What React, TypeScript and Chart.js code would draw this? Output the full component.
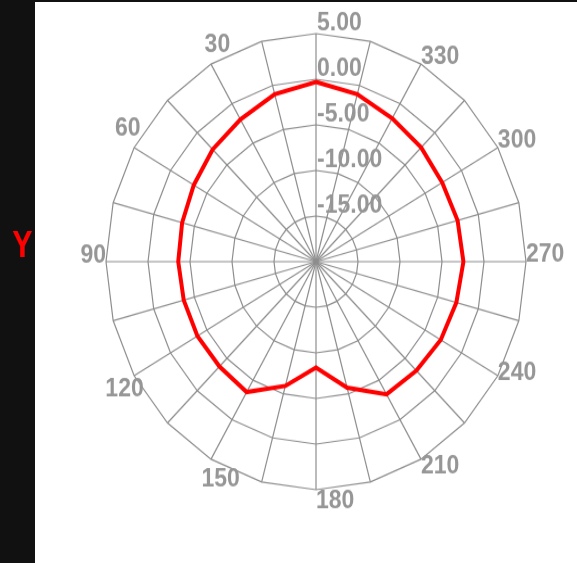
import React, { useEffect, useRef } from 'react';
import { Chart, registerables } from 'chart.js';

Chart.register(...registerables);

// Angles (degrees, counter-clockwise from top) and normalised gain (dB)
const angles = ['0', '15', '30', '45', '60', '75', '90', '105', '120', '135', '150', '165',
  '180', '195', '210', '225', '240', '255', '270', '285', '300', '315', '330', '345'];
const gainDb = [-0.3, -1.0, -2.0, -2.6, -3.2, -3.5, -3.6, -3.7, -3.7, -3.75, -3.5, -5.9,
  -8.4, -5.7, -3.2, -3.1, -2.85, -2.7, -2.45, -2.55, -2.65, -2.3, -1.85, -1.0];
const radialMin = -20;
const radialMax = 5;
const radialStep = 5;
const labelEvery = 30;

const GRID = '#8e8e8e';
const TEXT = '#969696';
const FONT = '"Liberation Sans", Arial, sans-serif';
const LABEL_FONT = `bold 23px ${FONT}`;

// Chart.js radar goes clockwise; reorder so angles increase counter-clockwise
const order = angles.map((_, i) => (angles.length - i) % angles.length);
const chartLabels = order.map((j) => angles[j]);
const chartValues = order.map((j) => gainDb[j]);

// Radial tick values to the right of the 0° spoke, just above each ring;
// angle labels placed just outside the outer ring.
const labelsPlugin = {
  id: 'polarLabels',
  afterDatasetsDraw(chart: any) {
    const scale = chart.scales.r;
    const ctx = chart.ctx;
    ctx.save();
    ctx.font = LABEL_FONT;
    ctx.fillStyle = TEXT;
    ctx.textAlign = 'left';
    ctx.textBaseline = 'alphabetic';
    scale.ticks.forEach((t: any) => {
      if (t.value <= scale.min) return;
      const d = scale.getDistanceFromCenterForValue(t.value);
      ctx.fillText(Number(t.value).toFixed(2), scale.xCenter + 1, scale.yCenter - d - 3);
    });
    const R = scale.getDistanceFromCenterForValue(scale.max);
    chartLabels.forEach((label, i) => {
      const deg = Number(label);
      if (deg === 0 || deg % labelEvery !== 0) return;
      const p = scale.getPointPosition(i, R);
      const a = (deg * Math.PI) / 180;
      const s = Math.sin(a);
      const c = Math.cos(a);
      const w = ctx.measureText(label).width;
      let dx = 0;
      let dy = 0;
      if (s > 0.01) {
        dx = -w * s * s;
        dy = c >= 0 ? 1 - 12 * Math.min(1, 2 * c) : 1 + 26 * Math.sqrt(-c);
      } else {
        dy = c < 0 ? 17 * c * c : 0;
      }
      ctx.fillText(label, p.x + dx, p.y + dy);
    });
    ctx.restore();
  },
};

export default function App() {
  const ref = useRef<HTMLCanvasElement | null>(null);

  useEffect(() => {
    if (!ref.current) return;
    const chart = new Chart(ref.current, {
      type: 'radar',
      data: {
        labels: chartLabels,
        datasets: [
          {
            data: chartValues,
            borderColor: '#ff0000',
            backgroundColor: 'rgba(0,0,0,0)',
            borderWidth: 4,
            pointRadius: 0,
            fill: false,
            tension: 0,
          },
        ],
      },
      options: {
        responsive: false,
        animation: false,
        events: [],
        layout: { padding: { top: 30, bottom: 29, left: 0, right: 0 } },
        plugins: { legend: { display: false }, tooltip: { enabled: false } },
        scales: {
          r: {
            min: radialMin,
            max: radialMax,
            ticks: { display: false, stepSize: radialStep },
            grid: { color: GRID, lineWidth: 1.2, circular: false },
            angleLines: { color: GRID, lineWidth: 1.2 },
            pointLabels: { display: false },
          },
        },
      } as any,
      plugins: [labelsPlugin],
    });
    return () => chart.destroy();
  }, []);

  return (
    <div style={{ position: 'fixed', inset: 0, background: '#111', overflow: 'hidden' }}>
      <div style={{ position: 'absolute', left: 35, top: 2, right: 0, bottom: 0, background: '#fff' }} />
      <div
        style={{
          position: 'absolute', left: 12, top: 227, fontFamily: FONT, fontWeight: 'bold',
          fontSize: 30, lineHeight: '30px', color: '#ff0000', transform: 'scaleY(1.2)', transformOrigin: 'top left',
        }}
      >
        Y
      </div>
      <div
        style={{
          position: 'absolute', left: 36, top: 1, width: 560, height: 480,
          transform: 'scaleY(1.086)', transformOrigin: 'top left',
        }}
      >
        <canvas ref={ref} width={560} height={480} style={{ width: 560, height: 480 }} />
      </div>
    </div>
  );
}
